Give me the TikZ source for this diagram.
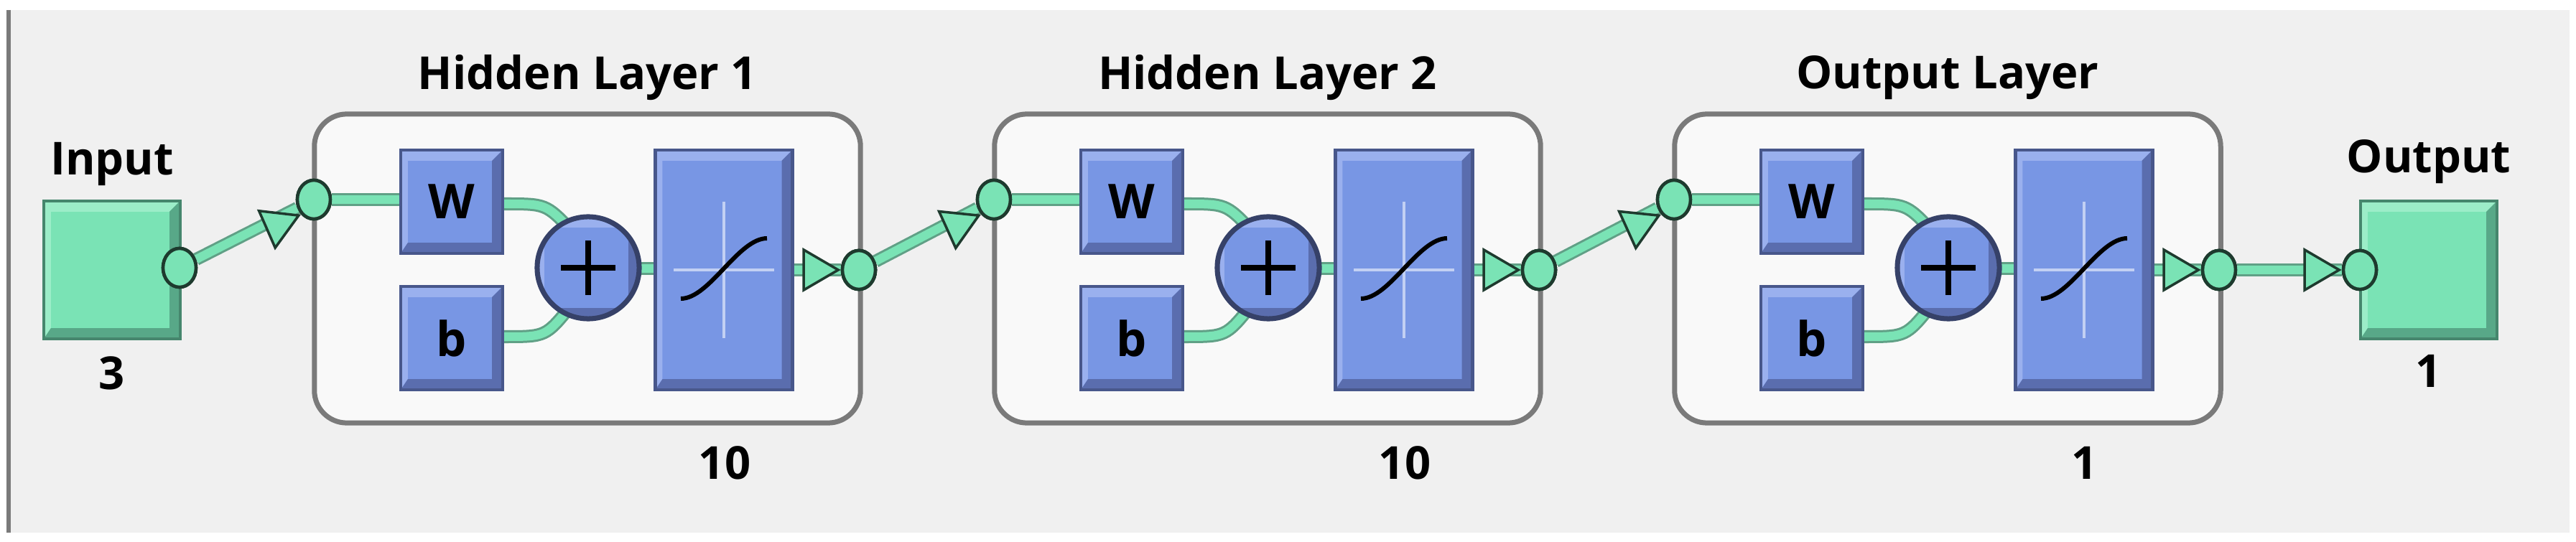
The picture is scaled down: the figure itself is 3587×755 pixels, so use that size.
\documentclass[tikz,border=0pt]{standalone}
\usepackage{fontspec}
\setmainfont{Open Sans}
\usetikzlibrary{shapes.geometric,calc}
\definecolor{bg}{HTML}{F0F0F0}
\definecolor{gr}{HTML}{7AE3B5}
\definecolor{grl}{HTML}{9CEDC8}
\definecolor{grd}{HTML}{58A888}
\definecolor{grk}{HTML}{1E3A2E}
\definecolor{bl}{HTML}{7896E4}
\definecolor{bll}{HTML}{9AB0EE}
\definecolor{bld}{HTML}{5A6DAE}
\definecolor{frame}{HTML}{7A7A7A}
\tikzset{
  x=0.01cm,y=-0.01cm,
  txt/.style={font=\fontsize{18}{20}\selectfont\bfseries, inner sep=0},
  bevel/.style n args={3}{fill=#1, inner sep=0, draw=#3!80!black, line width=1.2pt,
    path picture={
      \fill[#2] (path picture bounding box.north west) -- (path picture bounding box.north east)
        -- ([xshift=-0.15cm,yshift=-0.15cm]path picture bounding box.north east)
        -- ([xshift=0.1cm,yshift=-0.15cm]path picture bounding box.north west)
        -- ([xshift=0.1cm,yshift=0.15cm]path picture bounding box.south west)
        -- (path picture bounding box.south west) -- cycle;
      \fill[#3] (path picture bounding box.south east) -- (path picture bounding box.north east)
        -- ([xshift=-0.15cm,yshift=-0.15cm]path picture bounding box.north east)
        -- ([xshift=-0.15cm,yshift=0.15cm]path picture bounding box.south east)
        -- ([xshift=0.1cm,yshift=0.15cm]path picture bounding box.south west)
        -- (path picture bounding box.south west) -- cycle;
    }},
  blk/.style={rectangle, bevel={bl}{bll}{bld}, font=\fontsize{19}{20}\selectfont\bfseries},
  gbox/.style={rectangle, bevel={gr}{grl}{grd}, minimum width=1.9cm, minimum height=1.92cm},
  dot/.style={ellipse, fill=gr, draw=grk, line width=1.3pt, minimum width=0.46cm, minimum height=0.54cm, inner sep=0},
  conn/.style={draw=grd!80!gray, line width=0.03cm, double=gr, double distance=0.12cm},
  tri/.style={isosceles triangle, isosceles triangle apex angle=60, fill=gr, draw=grk, line width=1pt,
    isosceles triangle stretches, minimum height=0.48cm, minimum width=0.56cm, inner sep=0, sloped, anchor=apex},
  layer/.style={draw=frame, line width=0.07cm, fill=white!60!bg, rounded corners=0.45cm},
}
\begin{document}
\begin{tikzpicture}
\useasboundingbox (0,0) rectangle (3587,755);
\fill[white] (0,0) rectangle (3587,755);
\fill[bg] (12,14) rectangle (3578,742);
\draw[frame, line width=0.05cm] (12,14) -- (12,742);

\node[gbox] (in) at (156,376) {};
\node[dot] (ind) at (250,373) {};
\node[txt] (inl) at (156,229) {Input};
\node[txt] (inn) at (156,520) {3};

\foreach \i/\off/\t/\n in {1/0/Hidden Layer 1/10, 2/947/Hidden Layer 2/10, 3/1894/Output Layer/1}{
  \begin{scope}[shift={(\off,0)}]
  \node[layer, minimum width=7.6cm, minimum height=4.3cm] (L\i) at (818,374) {};
  \node[txt] (T\i) at (818,108) {\t};
  \node[txt] (N\i) at (1009,645) {\n};
  \node[blk, minimum width=1.42cm, minimum height=1.44cm] (W\i) at (629,281) {W};
  \node[blk, minimum width=1.42cm, minimum height=1.44cm] (B\i) at (629,471) {b};
  \node[blk, minimum width=1.91cm, minimum height=3.34cm] (F\i) at (1008,376) {};
  \draw[white!55!bl, line width=1.2pt] (F\i.center) ++(-70,0) -- ++(140,0);
  \draw[white!55!bl, line width=1.2pt] (F\i.center) ++(0,-95) -- ++(0,190);
  \draw[black, line width=1.7pt] (F\i.center) ++(-60,40) .. controls ++(40,0) and ++(-40,0) .. ++(120,-84);
  \node[dot] (I\i) at (437,278) {};
  \node[dot] (O\i) at (1196,376) {};
  \draw[conn] (I\i) -- (W\i.west |- I\i);
  \draw[conn] (W\i.east |- 0,284) .. controls (760,284) .. (795,320);
  \draw[conn] (B\i.east |- 0,469) .. controls (760,469) .. (795,426);
  \draw[conn] (889,374) -- (F\i.west |- 0,374);
  \draw[conn] (F\i.east |- O\i) -- (O\i);
  \node[blk, circle, minimum size=1.42cm, draw=bld!60!black, line width=2pt] (P\i) at (819,373) {};
  \draw[black, line width=2.4pt] (P\i.center) ++(-38,0) -- ++(76,0);
  \draw[black, line width=2.4pt] (P\i.center) ++(0,-38) -- ++(0,76);
  \path (F\i.east |- O\i) -- ($(O\i.west)$) node[tri, pos=1] (A\i) {};
  \node[dot] at (O\i) {};
  \end{scope}
}
\node[gbox] (out) at (3382,376) {};
\node[dot] (outd) at (3286,376) {};
\node[txt] (outl) at (3382,225) {Output};
\node[txt] (outn) at (3382,517) {1};

\draw[conn] (ind) -- (I1);
\draw[conn] (O1) -- (I2);
\draw[conn] (O2) -- (I3);
\draw[conn] (O3) -- (outd);
\path (ind) -- (I1.south west) node[tri, pos=1] (a1) {};
\path (O1) -- (I2.south west) node[tri, pos=1] (a2) {};
\path (O2) -- (I3.south west) node[tri, pos=1] (a3) {};
\path (O3) -- (outd.west) node[tri, pos=1] (a4) {};
\foreach \d in {ind,I1,O1,I2,O2,I3,O3,outd}{\node[dot] at (\d) {};}
\end{tikzpicture}
\end{document}
